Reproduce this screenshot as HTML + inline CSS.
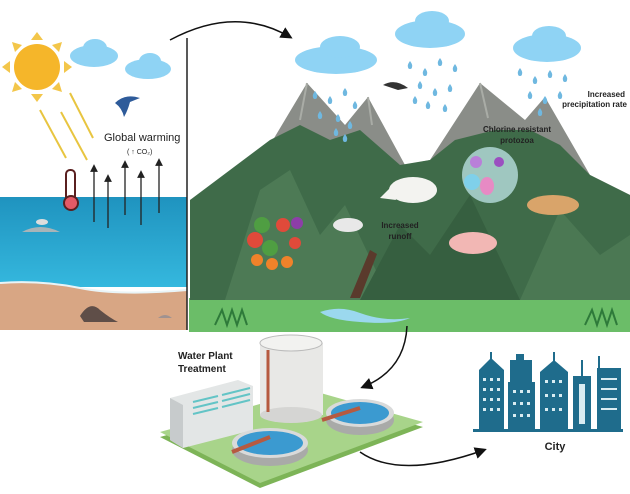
<!DOCTYPE html>
<html><head><meta charset="utf-8"><style>
html,body{margin:0;padding:0;background:#fff}
svg{display:block}
text{font-family:"Liberation Sans",sans-serif;font-weight:bold;fill:#222}
</style></head><body>
<svg width="630" height="494" viewBox="0 0 630 494" xmlns="http://www.w3.org/2000/svg">
<defs>
<linearGradient id="sea" x1="0" y1="0" x2="0" y2="1"><stop offset="0" stop-color="#1f93bf"/><stop offset="1" stop-color="#35b8de"/></linearGradient>
<marker id="ah" markerWidth="8" markerHeight="8" refX="6" refY="4" orient="auto"><path d="M0,0 L8,4 L0,8 z" fill="#111"/></marker>
<marker id="as" markerWidth="6" markerHeight="6" refX="3" refY="3" orient="auto"><path d="M0,0 L6,3 L0,6 z" fill="#222"/></marker>
<path id="drop" d="M0,-4 Q3,0 2,2 A2,2 0 0 1 -2,2 Q-3,0 0,-4z" fill="#6fb8e0"/>
</defs>
<rect x="0" y="197" width="187" height="90" fill="url(#sea)"/>
<path d="M0,283 Q40,280 80,288 T187,290 L187,330 L0,330 z" fill="#d8a684"/>
<path d="M0,283 Q40,280 80,288 T187,290" stroke="#e9f4f7" stroke-width="2" fill="none"/>
<g fill="#f3c64a">
<polygon points="37,32 43,40 31,40"/><polygon points="37,102 43,94 31,94"/>
<polygon points="2,67 10,61 10,73"/><polygon points="72,67 64,61 64,73"/>
<polygon points="12,42 22,45 15,52"/><polygon points="62,42 52,45 59,52"/>
<polygon points="12,92 22,89 15,82"/><polygon points="62,92 52,89 59,82"/>
</g>
<circle cx="37" cy="67" r="23" fill="#f5b62a"/>
<g stroke="#e8c540" stroke-width="2"><line x1="40" y1="110" x2="66" y2="158"/><line x1="61" y1="112" x2="87" y2="160"/><line x1="70" y1="93" x2="93" y2="138"/></g>
<g fill="#8fd3f4">
<ellipse cx="94" cy="56" rx="24" ry="11"/><ellipse cx="95" cy="48" rx="12" ry="9"/>
<ellipse cx="148" cy="69" rx="23" ry="10"/><ellipse cx="150" cy="61" rx="11" ry="8"/>
<ellipse cx="336" cy="60" rx="41" ry="14"/><ellipse cx="340" cy="47" rx="20" ry="11"/>
<ellipse cx="430" cy="34" rx="35" ry="14"/><ellipse cx="432" cy="21" rx="17" ry="10"/>
<ellipse cx="547" cy="48" rx="34" ry="14"/><ellipse cx="549" cy="36" rx="17" ry="10"/>
</g>
<path d="M115,103 Q125,93 140,98 L130,102 Q128,110 124,117 Q122,108 115,103z" fill="#2e5b9a"/>
<text x="104" y="141" font-size="11" style="font-weight:normal">Global warming</text>
<text x="127" y="154" font-size="7" style="font-weight:normal">( ↑ CO₂)</text>
<rect x="66" y="170" width="9" height="32" rx="4" fill="#fff" stroke="#5a2020" stroke-width="2"/>
<circle cx="71" cy="203" r="7" fill="#e45a66" stroke="#5a2020" stroke-width="2"/>
<g stroke="#222" stroke-width="1.3" marker-end="url(#as)">
<line x1="94" y1="222" x2="94" y2="168"/><line x1="108" y1="228" x2="108" y2="178"/>
<line x1="125" y1="215" x2="125" y2="164"/><line x1="141" y1="225" x2="141" y2="174"/>
<line x1="159" y1="213" x2="159" y2="162"/>
</g>
<path d="M22,232 Q40,222 60,232 z" fill="#a8b4b8"/><ellipse cx="42" cy="222" rx="6" ry="3" fill="#ddd"/>
<path d="M80,316 Q90,300 100,310 Q110,318 118,322 L84,322 z" fill="#5f4e48"/>
<path d="M158,318 Q165,312 172,318 z" fill="#a09290"/>
<line x1="187" y1="38" x2="187" y2="330" stroke="#222" stroke-width="1.5"/>
<path d="M170,40 Q235,5 290,37" stroke="#111" stroke-width="1.5" fill="none" marker-end="url(#ah)"/>
<rect x="189" y="298" width="441" height="34" fill="#6bbd68"/>
<polygon points="190,300 190,200 255,170 307,83 345,125 368,97 405,165 430,160 480,83 525,120 545,97 590,175 630,195 630,300" fill="#8a8d88"/>
<polygon points="190,300 190,200 230,170 270,140 300,125 330,140 360,130 400,165 430,160 455,140 495,130 530,130 560,145 590,175 630,195 630,300" fill="#3f6b49"/>
<polygon points="225,300 260,190 290,170 320,235 345,205 390,300" fill="#4d7a55"/>
<polygon points="360,300 400,225 430,255 470,195 520,300" fill="#365f40"/>
<polygon points="520,300 560,210 600,255 630,235 630,300" fill="#4b7853"/>
<path d="M307,83 L300,120 M480,83 L488,118 M368,97 L372,125" stroke="#a9aca6" stroke-width="2"/>
<path d="M350,298 L370,250 L377,254 L360,298z" fill="#5a3a2c"/>
<path d="M320,312 Q340,305 360,313 Q385,322 410,318 Q395,325 360,322 Q330,320 320,312z" fill="#9bd8ee"/>
<g>
<use href="#drop" x="315" y="95"/><use href="#drop" x="330" y="100"/><use href="#drop" x="345" y="92"/><use href="#drop" x="355" y="105"/><use href="#drop" x="320" y="115"/><use href="#drop" x="338" y="118"/><use href="#drop" x="350" y="125"/><use href="#drop" x="336" y="132"/><use href="#drop" x="345" y="138"/>
<use href="#drop" x="410" y="65"/><use href="#drop" x="425" y="72"/><use href="#drop" x="440" y="62"/><use href="#drop" x="455" y="68"/><use href="#drop" x="420" y="85"/><use href="#drop" x="435" y="92"/><use href="#drop" x="450" y="88"/><use href="#drop" x="428" y="105"/><use href="#drop" x="445" y="108"/><use href="#drop" x="415" y="100"/>
<use href="#drop" x="520" y="72"/><use href="#drop" x="535" y="80"/><use href="#drop" x="550" y="74"/><use href="#drop" x="530" y="95"/><use href="#drop" x="545" y="100"/><use href="#drop" x="560" y="95"/><use href="#drop" x="540" y="112"/><use href="#drop" x="565" y="78"/>
</g>
<path d="M383,85 Q395,78 408,88 L398,90 Z" fill="#333"/>
<text x="625" y="97" font-size="8" text-anchor="end">Increased</text>
<text x="627" y="107" font-size="8" text-anchor="end">precipitation rate</text>
<text x="517" y="132" font-size="8" text-anchor="middle">Chlorine resistant</text>
<text x="517" y="143" font-size="8" text-anchor="middle">protozoa</text>
<circle cx="490" cy="175" r="28" fill="#9fc7c0"/>
<circle cx="476" cy="162" r="6" fill="#b97fd9"/><circle cx="499" cy="162" r="5" fill="#9b4fc0"/><circle cx="472" cy="182" r="8" fill="#7fd0ea"/><ellipse cx="487" cy="186" rx="7" ry="9" fill="#e78ac4"/>
<text x="400" y="228" font-size="8" text-anchor="middle">Increased</text>
<text x="400" y="239" font-size="8" text-anchor="middle">runoff</text>
<ellipse cx="413" cy="190" rx="24" ry="13" fill="#f3f3f0"/><path d="M380,198 L392,186 L396,200z" fill="#f3f3f0"/>
<ellipse cx="348" cy="225" rx="15" ry="7" fill="#e8e8e8"/>
<ellipse cx="473" cy="243" rx="24" ry="11" fill="#f2b7b4"/>
<ellipse cx="553" cy="205" rx="26" ry="10" fill="#d9a46a"/>
<g fill="#e04a3a"><circle cx="255" cy="240" r="8"/><circle cx="283" cy="225" r="7"/><circle cx="295" cy="243" r="6"/></g>
<g fill="#f0822a"><circle cx="257" cy="260" r="6"/><circle cx="272" cy="264" r="6"/><circle cx="287" cy="262" r="6"/></g>
<g fill="#4f9e42"><circle cx="262" cy="225" r="8"/><circle cx="270" cy="248" r="8"/></g>
<circle cx="297" cy="223" r="6" fill="#8d3ea8"/>
<path d="M215,325 L222,310 L227,325 L232,310 L237,325 L242,310 L247,325" stroke="#2e7a3a" stroke-width="2" fill="none"/>
<path d="M585,325 L592,310 L597,325 L602,310 L607,325 L612,310 L617,325" stroke="#2e7a3a" stroke-width="2" fill="none"/>
<path d="M407,326 Q405,370 363,387" stroke="#111" stroke-width="1.5" fill="none" marker-end="url(#ah)"/>
<path d="M360,452 Q400,480 484,450" stroke="#111" stroke-width="1.5" fill="none" marker-end="url(#ah)"/>
<polygon points="160,437 310,395 423,427 260,488" fill="#7db457"/>
<polygon points="160,432 310,390 423,422 260,483" fill="#a8d48a"/>
<polygon points="170,398 238,380 253,386 253,430 183,448 170,440" fill="#e3e6e6"/>
<polygon points="170,398 183,405 183,448 170,440" fill="#c7cbcc"/>
<g stroke="#63c4c6" stroke-width="2"><line x1="193" y1="402" x2="218" y2="396"/><line x1="193" y1="408" x2="218" y2="402"/><line x1="193" y1="414" x2="218" y2="408"/><line x1="222" y1="395" x2="250" y2="388"/><line x1="222" y1="401" x2="250" y2="394"/><line x1="222" y1="407" x2="250" y2="400"/></g>
<rect x="260" y="343" width="63" height="72" fill="#e8e8e6"/>
<ellipse cx="291" cy="415" rx="31" ry="8" fill="#d5d5d3"/>
<ellipse cx="291" cy="343" rx="31" ry="8" fill="#f2f2f0" stroke="#bbb"/>
<line x1="268" y1="350" x2="268" y2="412" stroke="#b65a40" stroke-width="3"/>
<ellipse cx="270" cy="450" rx="38" ry="16" fill="#a9aaa8"/><ellipse cx="270" cy="443" rx="38" ry="15" fill="#d9dada"/><ellipse cx="270" cy="443" rx="33" ry="12" fill="#3b9ad0"/>
<ellipse cx="360" cy="420" rx="34" ry="15" fill="#a9aaa8"/><ellipse cx="360" cy="413" rx="34" ry="14" fill="#d9dada"/><ellipse cx="360" cy="413" rx="29" ry="11" fill="#3b9ad0"/>
<line x1="232" y1="452" x2="270" y2="437" stroke="#b65a40" stroke-width="4"/>
<line x1="322" y1="420" x2="360" y2="408" stroke="#b65a40" stroke-width="4"/>
<text x="178" y="359" font-size="10">Water Plant</text>
<text x="178" y="372" font-size="10">Treatment</text>
<g fill="#1f6c8c">
<rect x="479" y="370" width="25" height="60"/><polygon points="479,370 491,358 504,370"/><rect x="490" y="352" width="2" height="8"/>
<rect x="508" y="382" width="27" height="48"/><rect x="510" y="360" width="22" height="24"/><rect x="516" y="354" width="8" height="7"/>
<rect x="540" y="372" width="28" height="58"/><polygon points="540,372 554,360 568,372"/><rect x="553" y="352" width="2" height="9"/>
<rect x="573" y="376" width="18" height="54"/><rect x="581" y="360" width="2" height="16"/>
<rect x="597" y="368" width="24" height="62"/><rect x="598" y="356" width="2" height="12"/>
<rect x="473" y="429" width="150" height="3"/>
</g>
<g fill="#d9ecf2">
<rect x="483" y="378" width="3" height="3"/><rect x="490" y="378" width="3" height="3"/><rect x="497" y="378" width="3" height="3"/>
<rect x="483" y="388" width="3" height="3"/><rect x="490" y="388" width="3" height="3"/><rect x="497" y="388" width="3" height="3"/>
<rect x="483" y="398" width="3" height="3"/><rect x="490" y="398" width="3" height="3"/><rect x="497" y="398" width="3" height="3"/>
<rect x="483" y="408" width="3" height="3"/><rect x="490" y="408" width="3" height="3"/><rect x="497" y="408" width="3" height="3"/>
<rect x="513" y="390" width="3" height="3"/><rect x="520" y="390" width="3" height="3"/><rect x="527" y="390" width="3" height="3"/>
<rect x="513" y="402" width="3" height="3"/><rect x="520" y="402" width="3" height="3"/><rect x="527" y="402" width="3" height="3"/>
<rect x="513" y="414" width="3" height="3"/><rect x="520" y="414" width="3" height="3"/><rect x="527" y="414" width="3" height="3"/>
<rect x="545" y="380" width="3" height="3"/><rect x="552" y="380" width="3" height="3"/><rect x="559" y="380" width="3" height="3"/>
<rect x="545" y="394" width="3" height="3"/><rect x="552" y="394" width="3" height="3"/><rect x="559" y="394" width="3" height="3"/>
<rect x="545" y="408" width="3" height="3"/><rect x="552" y="408" width="3" height="3"/><rect x="559" y="408" width="3" height="3"/>
<rect x="601" y="378" width="16" height="2"/><rect x="601" y="388" width="16" height="2"/><rect x="601" y="398" width="16" height="2"/><rect x="601" y="408" width="16" height="2"/>
<rect x="579" y="384" width="6" height="40"/>
</g>
<text x="555" y="450" font-size="11" text-anchor="middle">City</text>
</svg>
</body></html>
